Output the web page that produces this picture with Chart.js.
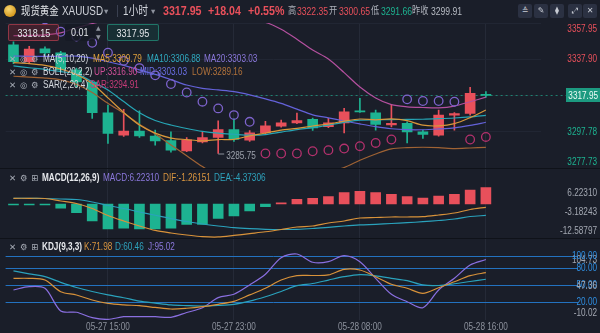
<!DOCTYPE html>
<html>
<head>
<meta charset="utf-8">
<script src="https://cdn.jsdelivr.net/npm/chart.js@4.4.1/dist/chart.umd.min.js"></script>
<style>
  body { margin: 0; background: #1a1e29; }
  #box { position: relative; width: 600px; height: 333px; overflow: hidden; background: #1a1e29;
         font-family: "Liberation Sans", "Noto Sans CJK SC", sans-serif; color: #c9ccd3; }
  #box canvas { position: absolute; left: 0; top: 0; }
  /* the app uses a condensed face; squeeze the regular one to the same width */
  .t { position: absolute; white-space: nowrap; font-size: 10px; line-height: 12px;
       transform: scaleX(0.82); transform-origin: 0 0; }
  .sq { display: inline-block; transform: scaleX(0.82); }
  .ico { position: absolute; font-family: "DejaVu Sans", sans-serif; font-size: 8.5px; line-height: 12px; color: #a9aeb8; }
  .btn { position: absolute; top: 4px; width: 14px; height: 14px; background: #2b3142; border-radius: 2px;
         font-family: "DejaVu Sans", sans-serif; font-size: 8px; line-height: 14px; text-align: center; color: #c8ccd4; }
  .coin { position: absolute; left: 4px; top: 5px; width: 12px; height: 12px; border-radius: 50%;
          background: radial-gradient(circle at 40% 35%, #f7d774, #d69a1f 70%, #a8730f); }
  .wbox { position: absolute; top: 24px; height: 17px; border-radius: 2px; font-size: 11px; line-height: 16px;
          text-align: center; color: #e3e5e9; box-sizing: border-box; }
</style>
</head>
<body>
<div id="box">
  <canvas id="kline" width="600" height="333"></canvas>

  <div class="coin"></div>
  <span class="t" style="left:21px;top:4px;font-size:11.5px;line-height:14px;color:#e4e6ea">现货黄金</span>
  <span class="t" style="left:62px;top:4px;font-size:12px;line-height:14px;color:#d0d3da">XAUUSD</span>
  <span class="ico" style="left:104px;top:5px;color:#8e939e">▾</span>
  <span style="position:absolute;left:117px;top:5px;width:1px;height:12px;background:#3a4050"></span>
  <span class="t" style="left:123px;top:4px;font-size:12px;line-height:14px;color:#d0d3da">1小时</span>
  <span class="ico" style="left:151px;top:5px;color:#8e939e">▾</span>
  <div id="quote"></div>
  <span class="btn" style="left:518px">≙</span>
  <span class="btn" style="left:534px">✎</span>
  <span class="btn" style="left:550px">⧫</span>
  <span class="btn" style="left:568px">⤢</span>
  <span class="btn" style="left:583px">✕</span>

  <div class="wbox" style="left:8px;width:51px;border:1px solid rgba(214,72,90,0.55);background:rgba(150,40,55,0.3)"><span class="sq">3318.15</span></div>
  <div class="wbox" style="left:65px;width:30px;background:rgba(22,26,36,0.85)"><span class="sq">0.01</span></div>
  <span class="ico" style="left:96px;top:23px;font-size:6px;line-height:9px;color:#8e939e">▲<br>▼</span>
  <div class="wbox" style="left:107px;width:52px;border:1px solid rgba(38,166,140,0.6);background:rgba(20,90,78,0.3)"><span class="sq">3317.95</span></div>

  <div id="legends"></div>
</div>

<script>
// hourly candles, 05-27 09:00 .. 05-28 16:00 (no 05:00 bar), plus three empty future slots
const times = ['05-27 09:00', '05-27 10:00', '05-27 11:00', '05-27 12:00', '05-27 13:00', '05-27 14:00',
  '05-27 15:00', '05-27 16:00', '05-27 17:00', '05-27 18:00', '05-27 19:00', '05-27 20:00', '05-27 21:00',
  '05-27 22:00', '05-27 23:00', '05-28 00:00', '05-28 01:00', '05-28 02:00', '05-28 03:00', '05-28 04:00',
  '05-28 06:00', '05-28 07:00', '05-28 08:00', '05-28 09:00', '05-28 10:00', '05-28 11:00', '05-28 12:00',
  '05-28 13:00', '05-28 14:00', '05-28 15:00', '05-28 16:00', '05-28 17:00', '05-28 18:00', '05-28 19:00'];
const xTickLabels = ['05-27 15:00', '05-27 23:00', '05-28 08:00', '05-28 16:00'];

const open = [3345.9, 3336.6, 3343.6, 3341.4, 3332.0, 3325.3, 3308.3, 3295.9, 3298.1, 3295.35, 3292.9,
  3287.2, 3292.2, 3294.6, 3299.05, 3293.1, 3297.2, 3300.9, 3302.7, 3304.6, 3300.65, 3302.7, 3309.1,
  3308.3, 3301.6, 3302.4, 3297.7, 3295.9, 3307.0, 3307.95, 3318.1];
const high = [3347.5, 3345.0, 3344.8, 3342.3, 3333.0, 3326.0, 3312.6, 3310.2, 3309.4, 3298.7, 3297.7,
  3294.5, 3297.7, 3303.85, 3305.0, 3298.5, 3303.6, 3304.2, 3308.1, 3305.3, 3305.2, 3310.7, 3316.3,
  3309.8, 3312.6, 3303.3, 3298.7, 3309.8, 3308.4, 3322.35, 3319.95];
const low = [3335.5, 3335.8, 3340.0, 3331.2, 3322.6, 3305.2, 3291.3, 3295.2, 3294.6, 3290.35, 3286.5,
  3286.8, 3291.6, 3285.75, 3292.5, 3292.5, 3296.6, 3300.3, 3302.2, 3298.5, 3300.0, 3297.2, 3308.5,
  3298.7, 3300.5, 3291.66, 3294.1, 3295.3, 3298.7, 3307.0, 3316.8];
const close = [3336.6, 3343.5, 3341.4, 3332.0, 3325.3, 3308.3, 3296.85, 3298.1, 3295.5, 3292.7, 3287.6,
  3293.3, 3294.6, 3299.05, 3293.5, 3297.2, 3301.05, 3302.7, 3304.0, 3299.91, 3302.7, 3308.8, 3308.8,
  3301.8, 3302.4, 3297.7, 3296.3, 3307.0, 3307.9, 3319.1, 3317.95];

const ma5 = [3336.0, 3335.5, 3334.5, 3332.5, 3329.5, 3324.5, 3316.5, 3308.5, 3301.5, 3297.0, 3294.3,
  3293.44, 3292.74, 3293.45, 3293.61, 3295.53, 3297.08, 3298.70, 3299.69, 3300.97, 3302.07, 3303.62,
  3304.84, 3304.40, 3304.90, 3303.90, 3301.40, 3301.04, 3302.26, 3305.60, 3309.79];
const ma10 = [3334.2, 3333.2, 3332.3, 3331.0, 3329.8, 3325.5, 3320.9, 3314.5, 3308.3, 3304.0, 3301.5,
  3299.6, 3298.0, 3297.0, 3296.4, 3295.9, 3296.2, 3297.6, 3299.0, 3300.0, 3301.5, 3303.0, 3304.2,
  3304.4, 3304.5, 3304.6, 3304.7, 3305.0, 3305.4, 3306.0, 3306.88];
// MA20 and the BOLL middle band are the same line
const ma20 = [3339.70, 3339.55, 3339.45, 3339.50, 3339.65, 3338.55, 3336.50, 3334.50, 3332.00, 3329.50,
  3326.65, 3323.65, 3321.80, 3320.90, 3319.95, 3318.20, 3316.00, 3313.50, 3310.30, 3307.16, 3305.46,
  3303.73, 3302.10, 3300.59, 3299.44, 3298.91, 3298.89, 3299.33, 3299.95, 3301.27, 3303.03];
const bollUp = [3350.9, 3351.1, 3351.4, 3352.5, 3355.3, 3357.6, 3359.5, 3361.0, 3362.0, 3362.5, 3362.8,
  3362.8, 3362.5, 3361.8, 3360.8, 3359.5, 3358.3, 3354.5, 3349.0, 3343.0, 3338.0, 3330.5, 3322.5,
  3316.5, 3312.8, 3311.6, 3311.2, 3311.0, 3312.0, 3314.4, 3316.90];
const bollLow = [3328.5, 3328.0, 3327.5, 3326.5, 3324.0, 3319.5, 3313.5, 3308.0, 3302.0, 3296.5, 3290.5,
  3284.5, 3278.5, 3273.5, 3270.0, 3267.5, 3266.5, 3267.0, 3269.0, 3272.0, 3275.5, 3278.0, 3282.0,
  3285.5, 3288.3, 3289.0, 3289.2, 3289.0, 3288.5, 3288.8, 3289.16];
const sar = [3363.0, 3361.5, 3360.0, 3353.1, 3350.5, 3347.0, 3341.5, 3337.0, 3333.0, 3329.0, 3324.2,
  3319.5, 3314.4, 3310.7, 3307.0, 3303.3, 3285.75, 3285.75, 3285.75, 3287.0, 3287.6, 3288.5, 3289.8,
  3291.6, 3293.5, 3315.7, 3314.8, 3314.8, 3314.4, 3293.5, 3294.91];

const macd = [-0.2, -0.2, -0.3, -1.64, -3.32, -6.49, -9.54, -9.27, -9.54, -9.54, -9.27, -7.75, -7.75,
  -5.46, -4.58, -2.67, -1.0, 0.4, 1.79, 2.18, 2.79, 4.31, 4.85, 4.31, 3.70, 2.79, 2.29, 3.05, 3.70,
  5.34, 6.22310];
const dif = [2.18, 2.18, 2.1, 1.15, 0.19, -1.72, -4.39, -6.49, -8.4, -10.1, -11.07, -11.83, -12.45,
  -12.58797, -12.0, -11.3, -10.6, -9.73, -8.78, -8.4, -7.25, -6.49, -5.34, -5.15, -4.96, -4.96, -4.85,
  -4.2, -3.44, -2.1, -1.26151];
const dea = [2.18, 2.18, 2.1, 1.9, 1.72, 0.76, -0.57, -1.72, -3.05, -4.31, -5.53, -6.68, -7.63, -8.4,
  -9.05, -9.43, -9.66, -9.73, -9.66, -9.35, -8.89, -8.4, -8.0, -7.75, -7.44, -7.14, -6.76, -6.3, -5.73,
  -4.77, -4.37306];

const kLine = [62, 62, 59, 38.6, 32.8, 24, 18.2, 15.5, 14, 11, 8.2, 9.5, 12.3, 16.5, 21.5, 33, 44.6,
  59.1, 66.7, 67, 68, 77.9, 76.7, 64.9, 51.6, 44.6, 35.8, 45.6, 56.1, 66.7, 71.98];
const dLine = [75, 70, 65, 55, 46, 39, 33, 28, 22, 18.5, 15.3, 14.2, 13.5, 14.5, 16.5, 22, 29.8, 39,
  49.1, 53, 59, 64.9, 68.5, 66.5, 62.1, 58, 50.4, 49.5, 52.5, 56.5, 60.46];
const jLine = [41.6, 47.4, 44.5, 4.7, 2.5, -7.0, -10.02, -5.3, -5.3, -5.3, -6.3, 2, 10.5, 28.1, 34,
  50.4, 69.1, 98.2, 104.73, 90.2, 91.2, 101.8, 91.2, 62.1, 34, 21, 10.5, 41.6, 62.1, 85.4, 95.02];

const priceTicks = [3357.95, 3337.90, 3317.84, 3297.78, 3277.73];
const macdTicks = [6.22310, -3.18243, -12.58797];
const kdjTicks = [104.73, 100, 80, 50, 47.36, 20, -10.02];
const kdjLevels = [100, 80, 50, 20];

const RED = '#e8505b';
const GREEN = '#1db391';
const GRID = '#252a37';
const LEVEL = '#2372c0';
const FONT = '"Liberation Sans", "DejaVu Sans", sans-serif';
const SQUEEZE = 0.82;

// quote line in the header
const last = close[close.length - 1];
const dayStart = times.indexOf('05-28 06:00');
const prevClose = close[dayStart - 1];
const dayHigh = Math.max(...high.slice(dayStart));
const dayLow = Math.min(...low.slice(dayStart));
const chg = last - prevClose;
const quote = [
  [163, last.toFixed(2), RED, 'bold', 13],
  [208, '+' + chg.toFixed(2), RED, 'bold', 13],
  [248, '+' + (chg / prevClose * 100).toFixed(2) + '%', RED, 'bold', 13],
  [288, '高', '#aeb2bb', 'normal', 10], [297, dayHigh.toFixed(2), RED, 'normal', 10.5],
  [329, '开', '#aeb2bb', 'normal', 10], [339, open[dayStart].toFixed(2), RED, 'normal', 10.5],
  [371, '低', '#aeb2bb', 'normal', 10], [381, dayLow.toFixed(2), GREEN, 'normal', 10.5],
  [412, '昨收', '#aeb2bb', 'normal', 10], [431, prevClose.toFixed(2), '#b7bbc3', 'normal', 10.5]
];
document.getElementById('quote').innerHTML = quote.map(([l, s, c, w, px]) =>
  `<span class="t" style="left:${l}px;top:4px;line-height:14px;font-size:${px}px;font-weight:${w};color:${c}">${s}</span>`).join('');

// indicator legends, values taken from the last bar
const f2 = a => a[a.length - 1].toFixed(2);
const f5 = a => a[a.length - 1].toFixed(5);
const rows = [
  [53.3, '✕ ◎ ⚙', [[43, 'MA(5,10,20)', '#d5d8de'], [93, 'MA5:' + f2(ma5), '#e0a13c'],
    [147, 'MA10:' + f2(ma10), '#2fa9bf'], [204, 'MA20:' + f2(ma20), '#8b78dc']]],
  [66.3, '✕ ◎ ⚙', [[43, 'BOLL(20,2,2)', '#d5d8de'], [94, 'UP:' + f2(bollUp), '#d04f98'],
    [140, 'MID:' + f2(ma20), '#6a6fe6'], [192, 'LOW:' + f2(bollLow), '#b3733b']]],
  [78.7, '✕ ◎ ⚙', [[43, 'SAR(2,20,4)', '#d5d8de'], [90, 'SAR:' + f2(sar), '#c63b78']]],
  [172.3, '✕ ⚙ ⊞', [[42, '<b>MACD(12,26,9)</b>', '#e6e8ec'], [103, 'MACD:' + f5(macd), '#8b78dc'],
    [163, 'DIF:' + f5(dif), '#d9953f'], [214, 'DEA:' + f5(dea), '#2ea3bd']]],
  [241.3, '✕ ⚙ ⊞', [[42, '<b>KDJ(9,3,3)</b>', '#e6e8ec'], [84, 'K:' + f2(kLine), '#d9953f'],
    [115, 'D:' + f2(dLine), '#2ea3bd'], [148, 'J:' + f2(jLine), '#8b78dc']]]
];
let html = '';
for (const [top, icons, items] of rows) {
  icons.split(' ').forEach((g, k) => {
    html += `<span class="ico" style="left:${9 + k * 11}px;top:${top}px">${g}</span>`;
  });
  for (const [l, s, c] of items) {
    html += `<span class="t" style="left:${l}px;top:${top}px;color:${c}">${s}</span>`;
  }
}
document.getElementById('legends').innerHTML = html;

// canvas text squeezed horizontally like the html labels
function squeezed(ctx, text, x, y, align) {
  ctx.save();
  ctx.translate(x, y);
  ctx.scale(SQUEEZE, 1);
  ctx.textAlign = align;
  ctx.fillText(text, 0, 0);
  ctx.restore();
}

// keep every dataset inside its own pane
const paneClip = {
  id: 'paneClip',
  beforeDatasetDraw(chart, args) {
    const s = chart.scales[args.meta.yAxisID];
    const a = chart.chartArea;
    chart.ctx.save();
    chart.ctx.beginPath();
    chart.ctx.rect(a.left, s.top, a.right - a.left, s.bottom - s.top);
    chart.ctx.clip();
  },
  afterDatasetDraw(chart) { chart.ctx.restore(); }
};

// dashed last-price line under the candles
const priceLine = {
  id: 'priceLine',
  beforeDatasetsDraw(chart) {
    const ctx = chart.ctx;
    const y = Math.round(chart.scales.y.getPixelForValue(last)) + 0.5;
    ctx.save();
    ctx.strokeStyle = 'rgba(32,170,140,0.7)';
    ctx.setLineDash([2, 3]);
    ctx.beginPath();
    ctx.moveTo(chart.chartArea.left, y);
    ctx.lineTo(566, y);
    ctx.stroke();
    ctx.restore();
  }
};

// axis text: right-hand values (top tick hangs below, bottom tick sits above) and the time row
const axisText = {
  id: 'axisText',
  afterDraw(chart) {
    const ctx = chart.ctx;
    ctx.save();
    ctx.font = '10px ' + FONT;
    for (const id of ['y', 'yMacd', 'yKdj']) {
      const s = chart.scales[id];
      const vals = s.ticks.map(t => t.value);
      const hi = Math.max(...vals);
      const lo = Math.min(...vals);
      for (const v of vals) {
        const y = s.getPixelForValue(v);
        ctx.textBaseline = v === hi ? 'top' : v === lo ? 'bottom' : 'middle';
        let col = '#a3a8b2';
        if (id === 'y') col = v > last ? RED : GREEN;
        if (id === 'yKdj' && kdjLevels.includes(v)) col = '#2f8ee0';
        ctx.fillStyle = col;
        squeezed(ctx, id === 'yMacd' ? v.toFixed(5) : v.toFixed(2), chart.width - 3,
                 y + (v === hi ? 1 : v === lo ? -1 : 0), 'right');
      }
    }
    const xs = chart.scales.x;
    ctx.fillStyle = '#8c919c';
    ctx.textBaseline = 'middle';
    xs.ticks.forEach(t => {
      const lab = times[t.value];
      if (xTickLabels.includes(lab)) squeezed(ctx, lab, xs.getPixelForValue(t.value), xs.top + 7, 'center');
    });
    ctx.restore();
  }
};

// pane separators, lowest-low marker and the last-price tag
const overlays = {
  id: 'overlays',
  afterDraw(chart) {
    const ctx = chart.ctx;
    ctx.save();
    ctx.strokeStyle = '#0f1219';
    ctx.lineWidth = 1;
    for (const id of ['yMacd', 'yKdj']) {
      const y = Math.round(chart.scales[id].top) + 0.5;
      ctx.beginPath(); ctx.moveTo(0, y); ctx.lineTo(chart.width, y); ctx.stroke();
    }

    const i = low.indexOf(Math.min(...low));
    const lx = chart.scales.x.getPixelForValue(i);
    const ly = chart.scales.y.getPixelForValue(low[i]);
    ctx.strokeStyle = '#8c919c';
    ctx.beginPath(); ctx.moveTo(lx, ly + 0.5); ctx.lineTo(lx + 6, ly + 0.5); ctx.stroke();
    ctx.font = '10px ' + FONT;
    ctx.fillStyle = '#9ba0aa';
    ctx.textBaseline = 'middle';
    squeezed(ctx, low[i].toFixed(2), lx + 8, ly + 3, 'left');

    const py = chart.scales.y.getPixelForValue(last);
    ctx.fillStyle = '#1c9a80';
    ctx.fillRect(566, Math.round(py) - 7, chart.width - 566, 14);
    ctx.fillStyle = '#ecfbf6';
    squeezed(ctx, last.toFixed(2), chart.width - 2, py + 0.5, 'right');
    ctx.restore();
  }
};

const candleColor = close.map((c, i) => c >= open[i] ? RED : GREEN);

function line(data, color, axis) {
  return { type: 'line', data, borderColor: color, borderWidth: 1.2, pointRadius: 0,
           tension: 0.3, yAxisID: axis, order: 5 };
}

function pane(stackWeight, min, max, ticks, grid) {
  return {
    type: 'linear', position: 'right', stack: 'pane', stackWeight, min, max,
    afterBuildTicks: s => { s.ticks = ticks.map(value => ({ value })); },
    afterFit: s => { s.width = 56; },
    grid, border: { display: false }, ticks: { display: false }
  };
}

Chart.defaults.font.family = FONT;

new Chart(document.getElementById('kline'), {
  type: 'bar',
  data: {
    labels: times,
    datasets: [
      { data: low.map((l, i) => [l, high[i]]), backgroundColor: candleColor, barThickness: 1,
        grouped: false, yAxisID: 'y', order: 10 },
      { data: open.map((o, i) => [o, close[i]]), backgroundColor: candleColor, barThickness: 10,
        minBarLength: 1, grouped: false, yAxisID: 'y', order: 9 },
      line(ma5, '#d9973a', 'y'),
      line(ma10, '#26a5b5', 'y'),
      line(ma20, '#6462d9', 'y'),
      line(bollUp, '#b4509f', 'y'),
      line(bollLow, '#a06334', 'y'),
      { type: 'line', data: sar, showLine: false, pointRadius: 4.3, pointBorderWidth: 1.3,
        pointBackgroundColor: 'transparent',
        pointBorderColor: sar.map((s, i) => s > close[i] ? '#7d63cc' : '#b4316d'),
        yAxisID: 'y', order: 1 },
      { data: macd, backgroundColor: macd.map(v => v >= 0 ? RED : GREEN), barThickness: 10,
        minBarLength: 1, grouped: false, yAxisID: 'yMacd', order: 9 },
      line(dif, '#d8923a', 'yMacd'),
      line(dea, '#2aa2bc', 'yMacd'),
      line(kLine, '#d8923a', 'yKdj'),
      line(dLine, '#2aa2bc', 'yKdj'),
      line(jLine, '#8a6fe0', 'yKdj')
    ]
  },
  options: {
    responsive: false,
    animation: false,
    events: [],
    layout: { padding: { top: 23, right: 3, left: 0, bottom: 0 } },
    plugins: { legend: { display: false }, tooltip: { enabled: false } },
    scales: {
      x: {
        type: 'category', offset: true,
        grid: { offset: false, drawTicks: false,
                color: c => xTickLabels.includes(times[c.index]) ? GRID : 'transparent' },
        border: { display: false },
        ticks: { display: false, autoSkip: false },
        afterFit: s => { s.height = 13; }
      },
      y: pane(145, 3277.73, 3357.95, priceTicks, { color: '#212633', drawTicks: false }),
      yMacd: pane(70, -12.98, 13.74, macdTicks, { display: false }),
      yKdj: pane(82, -11.07, 132.8, kdjTicks, {
        color: c => kdjLevels.includes(c.tick.value) ? LEVEL : 'transparent',
        tickColor: c => kdjLevels.includes(c.tick.value) ? LEVEL : 'transparent',
        drawTicks: true, tickLength: 37 })
    }
  },
  plugins: [paneClip, priceLine, axisText, overlays]
});
</script>
</body>
</html>
